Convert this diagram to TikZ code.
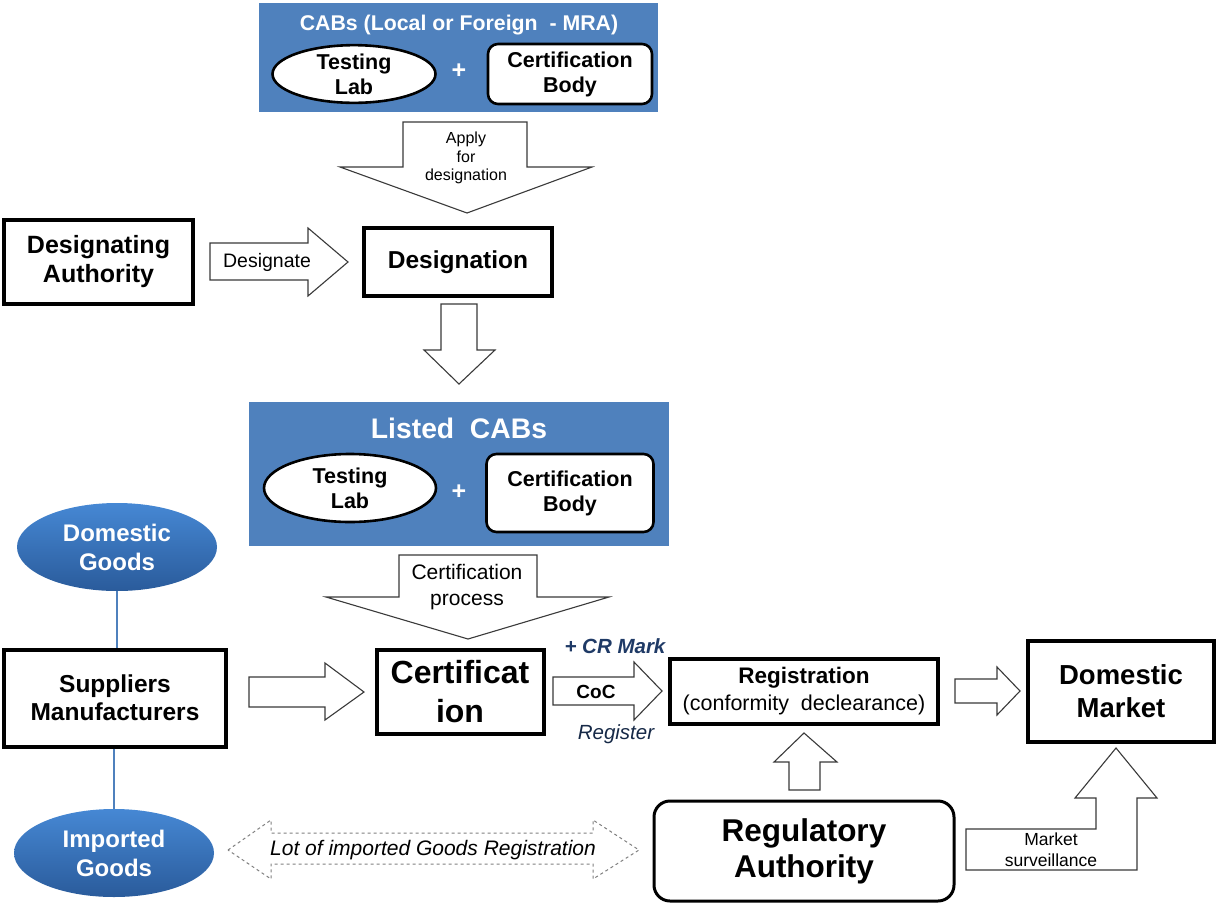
\documentclass[tikz,border=0pt]{standalone}
\usepackage{fontspec}
\setmainfont{Liberation Sans}
\usetikzlibrary{shapes.geometric}
\definecolor{cabblue}{HTML}{4F81BD}
\definecolor{elltop}{HTML}{4688D4}
\definecolor{ellbot}{HTML}{2A5B9B}
\definecolor{arrline}{HTML}{3A3A3A}
\definecolor{markblue}{HTML}{1F3A66}
\newcommand{\fs}[2]{\fontsize{#1}{#2}\selectfont}
\tikzset{
  tbox/.style={draw, line width=4pt, fill=white, inner sep=0pt, align=center, font=\bfseries},
  bluepanel/.style={fill=cabblue, draw=none},
  inell/.style={ellipse, draw, line width=2.6pt, fill=white, inner sep=0pt, align=center, font=\bfseries\fs{21.5}{25}},
  inrect/.style={rectangle, rounded corners=10pt, draw, line width=2.6pt, fill=white, inner sep=0pt, align=center, font=\bfseries\fs{21.5}{25}},
  goods/.style={ellipse, top color=elltop, bottom color=ellbot, draw=none, inner sep=0pt, align=center, text=white, font=\bfseries\fs{24}{29}},
  blockarrow/.style={draw=arrline, line width=1.1pt, fill=white, line join=miter},
  dasharrow/.style={draw=gray, line width=1pt, dashed, fill=white},
  lbl/.style={inner sep=0pt, align=center},
  gline/.style={draw=cabblue, line width=1.8pt}
}
\begin{document}
\begin{tikzpicture}[x=1pt,y=-1pt]
\useasboundingbox (0,0) rectangle (1219,903);
\fill[white] (0,0) rectangle (1219,903);

% ---------- top CAB panel
\node[bluepanel, minimum width=399pt, minimum height=109pt] (cab1) at (458.5,57.5) {};
\node[lbl, text=white, font=\bfseries\fs{21.3}{24}] (cab1t) at (459,25) {CABs (Local or Foreign\ \ - MRA)};
\node[inell, minimum width=163pt, minimum height=54pt] (tl1) at (354,74) {Testing\\Lab};
\node[lbl, text=white, font=\bfseries\fs{25}{25}] (plus1) at (459,71) {+};
\node[inrect, minimum width=164pt, minimum height=60pt] (cb1) at (570,74) {Certification\\Body};

% ---------- apply arrow
\draw[blockarrow] (403,122) -- (527,122) -- (527,167) -- (592,167) -- (467,213) -- (340,167) -- (403,167) -- cycle;
\node[lbl, font=\fs{16}{18.5}] (apply) at (466,158) {Apply\\for\\designation};

% ---------- designation row
\node[tbox, minimum width=189pt, minimum height=84pt, font=\bfseries\fs{25}{29}] (da) at (98.5,262) {Designating\\Authority};
\draw[blockarrow] (210,243) -- (308,243) -- (308,228) -- (348,262) -- (308,296) -- (308,280) -- (210,280) -- cycle;
\node[lbl, font=\fs{19.5}{20}] (desig) at (267,262) {Designate};
\node[tbox, minimum width=188pt, minimum height=68pt, font=\bfseries\fs{24.5}{27}] (dn) at (458,262) {Designation};

% ---------- down arrow
\draw[blockarrow] (441,304) -- (477,304) -- (477,350) -- (495,350) -- (459,384) -- (424,350) -- (441,350) -- cycle;

% ---------- listed CABs panel
\node[bluepanel, minimum width=420pt, minimum height=144pt] (cab2) at (459,474) {};
\node[lbl, text=white, font=\bfseries\fs{28.3}{30}] (cab2t) at (459,428) {Listed\ \ CABs};
\node[inell, minimum width=172pt, minimum height=68pt] (tl2) at (350,488) {Testing\\Lab};
\node[lbl, text=white, font=\bfseries\fs{25}{25}] (plus2) at (459,492) {+};
\node[inrect, minimum width=167pt, minimum height=78pt] (cb2) at (570,493) {Certification\\Body};

% ---------- certification process arrow
\draw[blockarrow] (399,555) -- (537,555) -- (537,597) -- (609,597) -- (468,639) -- (326,597) -- (399,597) -- cycle;
\node[lbl, font=\fs{21}{26}] (cproc) at (467,587) {Certification\\process};

% ---------- goods and suppliers
\node[goods, minimum width=200pt, minimum height=88pt] (dg) at (117,547) {Domestic\\Goods};
\node[tbox, minimum width=222pt, minimum height=97pt, font=\bfseries\fs{24.5}{28}] (sup) at (115,698) {Suppliers\\Manufacturers};
\node[goods, minimum width=200pt, minimum height=88pt] (ig) at (114,853) {Imported\\Goods};
\draw[gline] (dg.south) -- (dg.south |- sup.north);
\draw[gline] (ig.north |- sup.south) -- (ig.north);

% ---------- suppliers -> certification
\draw[blockarrow] (249,677) -- (325,677) -- (325,663) -- (364,692) -- (325,720) -- (325,707) -- (249,707) -- cycle;
\node[tbox, minimum width=167pt, minimum height=84pt, font=\bfseries\fs{32}{39}] (cert) at (460,692) {Certificat\\ion};

% ---------- CoC arrow
\draw[blockarrow] (553,677) -- (634,677) -- (634,662) -- (662,691) -- (634,720) -- (634,705) -- (553,705) -- cycle;
\node[lbl, font=\bfseries\fs{19}{20}] (coc) at (596,692) {CoC};
\node[lbl, text=markblue, font=\bfseries\itshape\fs{20.5}{20}] (crm) at (615,646) {+ CR Mark};
\node[lbl, text=markblue!70!black, font=\itshape\fs{20.5}{20}] (regl) at (616,734) {Register};

% ---------- registration
\node[tbox, minimum width=268pt, minimum height=65pt] (reg) at (804,691) {\bfseries\fs{22.5}{26}Registration\\[5pt]\mdseries\fs{21.5}{26}(conformity\ \ declearance)};

% ---------- reg -> domestic market
\draw[blockarrow] (955,679) -- (997,679) -- (997,667) -- (1020,691) -- (997,715) -- (997,703) -- (955,703) -- cycle;
\node[tbox, minimum width=186pt, minimum height=101pt, font=\bfseries\fs{27.5}{33}] (dm) at (1121,691) {Domestic\\Market};

% ---------- regulatory authority
\node[draw, line width=3pt, rounded corners=16pt, fill=white, minimum width=300pt, minimum height=100pt, inner sep=0pt, align=center, font=\bfseries\fs{31.5}{36}] (ra) at (804,851) {Regulatory\\Authority};
\draw[blockarrow] (789,790) -- (820,790) -- (820,762) -- (837,762) -- (804,733) -- (774,762) -- (789,762) -- cycle;

% ---------- market surveillance
\draw[blockarrow] (966,829) -- (1096,829) -- (1096,798) -- (1075,798) -- (1116,748) -- (1157,798) -- (1137,798) -- (1137,870) -- (966,870) -- cycle;
\node[lbl, font=\fs{17.5}{21}] (ms) at (1051,850) {Market\\surveillance};

% ---------- dashed double arrow
\draw[dasharrow] (228,850) -- (271,820) -- (271,833) -- (593,833) -- (593,820) -- (639,850) -- (593,879) -- (593,864) -- (271,864) -- (271,879) -- cycle;
\node[lbl, font=\itshape\fs{21}{22}] (lot) at (433,850) {Lot of imported Goods Registration};
\end{tikzpicture}
\end{document}
